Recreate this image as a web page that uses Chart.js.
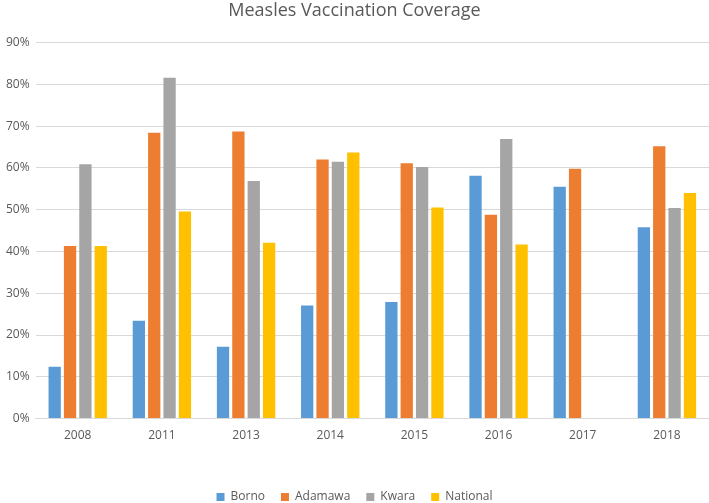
<!DOCTYPE html>
<html>
<head>
<meta charset="utf-8">
<script src="https://cdn.jsdelivr.net/npm/chart.js@4"></script>
<style>
  html, body { margin: 0; padding: 0; background: #fff; }
  #wrap { width: 709px; height: 503px; }
</style>
</head>
<body>
<div id="wrap"><canvas id="myChart" width="709" height="503"></canvas></div>
<script>
const years = ['2008', '2011', '2013', '2014', '2015', '2016', '2017', '2018'];
const borno = [12.4, 23.4, 17.2, 27.1, 27.9, 58.1, 55.5, 45.8];
const adamawa = [41.3, 68.4, 68.7, 62.0, 61.1, 48.8, 59.8, 65.2];
const kwara = [60.9, 81.6, 56.9, 61.5, 60.2, 66.9, null, 50.4];
const national = [41.3, 49.6, 42.1, 63.7, 50.5, 41.7, null, 54.0];

const font = "'Open Sans', 'Liberation Sans', sans-serif";

function series(label, values, color) {
    return {
        label: label,
        data: values,
        backgroundColor: color,
        borderWidth: 0,
        barPercentage: 0.8,
        categoryPercentage: 0.73
    };
}

const config = {
    type: 'bar',
    data: {
        labels: years,
        datasets: [
            series('Borno', borno, '#5b9bd5'),
            series('Adamawa', adamawa, '#ed7d31'),
            series('Kwara', kwara, '#a5a5a5'),
            series('National', national, '#ffc000')
        ]
    },
    options: {
        responsive: false,
        animation: false,
        layout: { padding: { left: 0, right: 0, top: 0, bottom: -10 } },
        plugins: {
            title: {
                display: true,
                text: 'Measles Vaccination Coverage',
                color: '#595959',
                font: { family: font, size: 18, weight: 'normal' },
                padding: { top: 0, bottom: 21 }
            },
            legend: {
                position: 'bottom',
                labels: {
                    boxWidth: 8,
                    boxHeight: 8,
                    color: '#595959',
                    font: { family: font, size: 12 },
                    padding: 16
                }
            },
            tooltip: { enabled: false }
        },
        scales: {
            x: {
                grid: { display: false, drawTicks: false },
                border: { color: '#d9d9d9' },
                ticks: { color: '#595959', font: { family: font, size: 12 }, padding: 10 },
                afterFit: function(scale) { scale.height += 22; }
            },
            y: {
                min: 0,
                max: 90,
                grid: { color: '#d9d9d9', drawTicks: false },
                border: { display: false },
                ticks: {
                    stepSize: 10,
                    color: '#595959',
                    font: { family: font, size: 12 },
                    padding: 6,
                    callback: function(v) { return v + '%'; }
                }
            }
        }
    }
};

new Chart(document.getElementById('myChart').getContext('2d'), config);
</script>
</body>
</html>
